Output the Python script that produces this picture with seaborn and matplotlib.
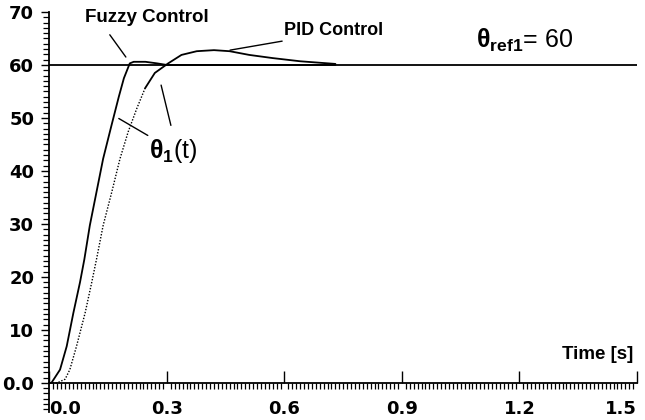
import matplotlib
matplotlib.use("Agg")
import matplotlib.pyplot as plt
import seaborn as sns
import pandas as pd
from matplotlib.ticker import FixedLocator, FixedFormatter, MultipleLocator

# ---- data ----
time_fuzzy = [0.0, 0.005, 0.027, 0.044, 0.061, 0.078, 0.089, 0.103, 0.120, 0.137,
              0.158, 0.177, 0.190, 0.205, 0.215, 0.245, 0.275, 0.30, 0.73]
theta_fuzzy = [0.0, 0.0, 2.5, 6.9, 13.2, 19.0, 23.3, 29.7, 36.0, 42.3,
               48.5, 54.0, 57.5, 60.3, 60.6, 60.6, 60.3, 60.0, 60.0]

time_pid = [0.0, 0.02, 0.040, 0.052, 0.069, 0.091, 0.108, 0.120, 0.137, 0.159,
            0.180, 0.201, 0.223, 0.244, 0.269, 0.303, 0.337, 0.376, 0.42, 0.46,
            0.51, 0.57, 0.64, 0.73]
theta_pid = [0.0, 0.0, 0.7, 2.5, 6.9, 13.2, 19.0, 23.3, 29.7, 36.0,
             42.3, 47.4, 51.8, 55.6, 58.5, 60.3, 61.9, 62.6, 62.8, 62.6,
             61.9, 61.3, 60.7, 60.2]
pid_dotted_until = 13  # index where the PID trace turns from dotted to solid

theta_ref = 60

x_ticks = [0.0, 0.3, 0.6, 0.9, 1.2, 1.5]
x_tick_labels = ["0.0", "0.3", "0.6", "0.9", "1.2", "1.5"]
x_minor_step = 0.01
y_ticks = [0, 10, 20, 30, 40, 50, 60, 70]
y_tick_labels = ["0.0", "10", "20", "30", "40", "50", "60", "70"]
y_minor_step = 1

# ---- style ----
sns.set_style("ticks")
plt.rcParams["font.family"] = ["DejaVu Sans"]
plt.rcParams["mathtext.fontset"] = "custom"
plt.rcParams["mathtext.rm"] = "Liberation Sans"
plt.rcParams["mathtext.bf"] = "Liberation Sans:bold"
plt.rcParams["mathtext.it"] = "Liberation Sans:italic"

fig = plt.figure(figsize=(6.45, 4.2), dpi=100)
ax = fig.add_axes([0.0767, 0.01905, 0.9109, 0.95238])

df_f = pd.DataFrame({"t": time_fuzzy, "theta": theta_fuzzy})
df_p = pd.DataFrame({"t": time_pid, "theta": theta_pid})

ax.axhline(theta_ref, color="black", lw=1.3, zorder=1)
sns.lineplot(data=df_f, x="t", y="theta", ax=ax, color="black", lw=1.3,
             estimator=None, sort=False, zorder=3)
sns.lineplot(data=df_p.iloc[:pid_dotted_until + 1], x="t", y="theta", ax=ax,
             color="black", lw=1.0, ls=(0, (1, 1.2)), estimator=None, sort=False, zorder=3)
sns.lineplot(data=df_p.iloc[pid_dotted_until:], x="t", y="theta", ax=ax,
             color="black", lw=1.3, estimator=None, sort=False, zorder=3)

ax.set_xlim(0, 1.5)
ax.set_ylim(-5.5, 70)
ax.set_xlabel("")
ax.set_ylabel("")

for s in ["top", "right"]:
    ax.spines[s].set_visible(False)
ax.spines["bottom"].set_position(("data", 0))
for s in ["left", "bottom"]:
    ax.spines[s].set_linewidth(1.3)
    ax.spines[s].set_color("black")

ax.xaxis.set_major_locator(FixedLocator(x_ticks))
ax.xaxis.set_major_formatter(FixedFormatter(x_tick_labels))
ax.xaxis.set_minor_locator(MultipleLocator(x_minor_step))
ax.yaxis.set_major_locator(FixedLocator(y_ticks))
ax.yaxis.set_major_formatter(FixedFormatter(y_tick_labels))
ax.yaxis.set_minor_locator(MultipleLocator(y_minor_step))

ax.tick_params(axis="x", which="major", direction="in", length=8.5, width=1.0,
               pad=12, labelsize=13, labelcolor="black", color="black", bottom=True)
ax.tick_params(axis="x", which="minor", direction="out", length=4.5, width=0.9,
               color="black", bottom=True)
ax.tick_params(axis="y", which="major", direction="out", length=6, width=1.0,
               pad=5, labelsize=13, labelcolor="black", color="black", left=True)
ax.tick_params(axis="y", which="minor", direction="out", length=4.5, width=0.9,
               color="black", left=True)
for lab in ax.get_xticklabels() + ax.get_yticklabels():
    lab.set_fontweight("bold")
xl = ax.get_xticklabels()
xl[0].set_ha("left")
xl[-1].set_ha("right")

# ---- annotations ----
txt = dict(color="black", family="Liberation Sans", weight="bold")
ax.text(0.248, 68.9, "Fuzzy Control", ha="center", va="center", fontsize=13.5, **txt)
ax.text(0.726, 66.6, "PID Control", ha="center", va="center", fontsize=13, **txt)
ax.text(1.49, 5.3, "Time [s]", ha="right", va="center", fontsize=13.5, **txt)
ax.text(1.09, 63.3, r"$\mathbf{\theta_{ref1}}$= 60", ha="left", va="baseline",
        fontsize=18, color="black", family="Liberation Sans")
ax.text(0.255, 42.4, r"$\mathbf{\theta_1}$(t)", ha="left", va="baseline",
        fontsize=18, color="black", family="Liberation Sans")

lp = dict(arrowstyle="-", color="black", lw=1.0, shrinkA=0, shrinkB=0)
ax.annotate("", xy=(0.195, 61.5), xytext=(0.154, 65.7), arrowprops=lp)
ax.annotate("", xy=(0.461, 62.8), xytext=(0.594, 64.5), arrowprops=lp)
ax.annotate("", xy=(0.177, 49.9), xytext=(0.251, 46.7), arrowprops=lp)
ax.annotate("", xy=(0.285, 56.2), xytext=(0.310, 48.6), arrowprops=lp)

fig.savefig("out.png", dpi=100, facecolor="white")
